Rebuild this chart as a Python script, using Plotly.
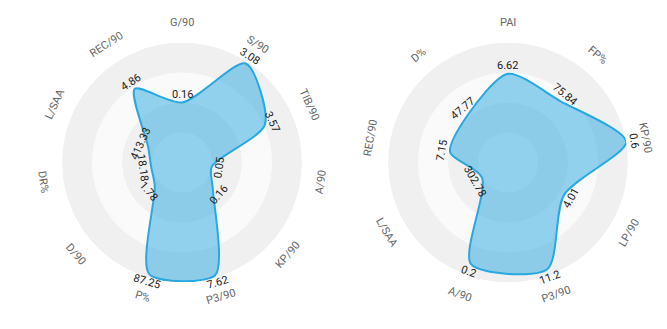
import math
import plotly.graph_objects as go

W, H = 667, 329

# ---- data ----
left_axes = ["G/90", "S/90", "TIB/90", "A/90", "KP/90", "P3/90", "P%", "D/90", "DR%", "L/SAA", "REC/90"]
left_values = [0.16, 3.08, 3.57, 0.05, 0.16, 7.62, 87.25, 1.78, 18.18, 413.33, 4.86]
left_max = [0.32, 3.14, 4.7, 0.2, 0.47, 7.78, 90, 5.93, 70, 1333, 6.66]

right_axes = ["PAI", "FP%", "KP/90", "LP/90", "P3/90", "A/90", "L/SAA", "REC/90", "D%"]
right_values = [6.62, 75.84, 0.6, 4.01, 11.2, 0.2, 302.78, 7.15, 47.77]
right_max = [8.95, 113, 0.6, 7.43, 11.8, 0.222, 1211, 14.6, 91.9]

ring_edges = [0, 0.25, 0.5, 0.75, 1.0]
ring_colors = ["#fafafa", "#f0f0f0", "#fafafa", "#f0f0f0"]

LINE = "rgb(41,168,224)"
FILL = "rgba(41,168,224,0.5)"

R_PX = 120
DOMAINS = {
    "polar": dict(x=[(182 - R_PX) / W, (182 + R_PX) / W], y=[(H - 162.5 - R_PX) / H, (H - 162.5 + R_PX) / H]),
    "polar2": dict(x=[(508 - R_PX) / W, (508 + R_PX) / W], y=[(H - 162.5 - R_PX) / H, (H - 162.5 + R_PX) / H]),
}

fig = go.Figure()
annotations = []


def tangent_angle(phi):
    if phi <= 90:
        return phi
    if phi < 270:
        return phi - 180
    return phi - 360


def to_paper(dom, phi, rho_px):
    cx = (dom["x"][0] + dom["x"][1]) / 2 * W
    cy = (dom["y"][0] + dom["y"][1]) / 2 * H
    a = math.radians(phi)
    return (cx + rho_px * math.sin(a)) / W, (cy + rho_px * math.cos(a)) / H


def add_radar(subplot, axes, values, maxima):
    n = len(axes)
    thetas = [i * 360 / n for i in range(n)]
    dom = DOMAINS[subplot]
    # background rings
    fig.add_trace(go.Barpolar(
        r=[ring_edges[k + 1] - ring_edges[k] for k in range(4)],
        base=ring_edges[:4],
        theta=[0] * 4, width=[360] * 4,
        marker=dict(color=ring_colors, line=dict(width=0)),
        hoverinfo="skip", showlegend=False, subplot=subplot,
    ))
    rs = [v / m for v, m in zip(values, maxima)]
    fig.add_trace(go.Scatterpolar(
        r=rs + rs[:1], theta=thetas + thetas[:1],
        mode="lines", fill="toself", fillcolor=FILL,
        line=dict(color=LINE, width=2, shape="spline", smoothing=0.75),
        showlegend=False, subplot=subplot, hoverinfo="skip",
    ))
    for i, name in enumerate(axes):
        phi = thetas[i]
        x, y = to_paper(dom, phi, 140)
        annotations.append(dict(
            x=x, y=y, xref="paper", yref="paper", text=name, showarrow=False,
            textangle=tangent_angle(phi), xanchor="center", yanchor="middle",
            font=dict(family="Roboto", size=11, color="#666666"),
        ))
        x, y = to_paper(dom, phi, rs[i] * R_PX + 8)
        annotations.append(dict(
            x=x, y=y, xref="paper", yref="paper", text=f"{values[i]:g}", showarrow=False,
            textangle=tangent_angle(phi), xanchor="center", yanchor="middle",
            font=dict(family="Roboto", size=11, color="#222222"),
        ))


add_radar("polar", left_axes, left_values, left_max)
add_radar("polar2", right_axes, right_values, right_max)

polar_common = dict(
    bgcolor="rgba(0,0,0,0)",
    barmode="overlay",
    radialaxis=dict(visible=False, range=[0, 1]),
    angularaxis=dict(visible=False, direction="clockwise", rotation=90),
)
fig.update_layout(
    width=W, height=H,
    margin=dict(l=0, r=0, t=0, b=0),
    paper_bgcolor="white", plot_bgcolor="white",
    polar=dict(domain=DOMAINS["polar"], **polar_common),
    polar2=dict(domain=DOMAINS["polar2"], **polar_common),
    annotations=annotations,
    font=dict(family="Roboto"),
)

fig.write_html("out.html")
